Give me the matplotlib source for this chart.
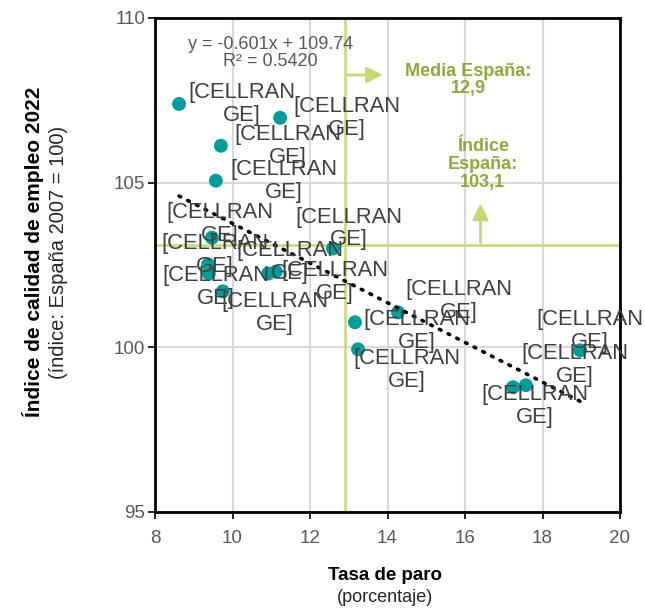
import numpy as np
import matplotlib
matplotlib.use('Agg')
import matplotlib.pyplot as plt

plt.rcParams['font.family'] = ['Liberation Sans', 'DejaVu Sans']

# ---------------------------------------------
# datos
# ---------------------------------------------
tasa_paro = [8.62, 11.23, 9.70, 9.57, 9.47, 12.59, 9.37, 9.39, 9.75,
             10.92, 11.12, 13.16, 13.24, 14.27, 17.24, 17.57, 18.97]
indice_calidad = [107.39, 106.97, 106.12, 105.06, 103.33, 103.00, 102.52, 102.24, 101.70,
                  102.24, 102.30, 100.76, 99.94, 101.06, 98.79, 98.85, 99.91]
etiquetas = ['[CELLRAN\nGE]'] * len(tasa_paro)

media_paro = 12.9
media_indice = 103.1
ecuacion = 'y = -0.601x + 109.74\nR² = 0.5420'

x_ticks = [8, 10, 12, 14, 16, 18, 20]
y_ticks = [95, 100, 105, 110]

# posición de cada etiqueta respecto a su punto (pixeles)
offsets = [(63, 0), (67, 0), (67, 0), (68, 0), (8, 14), (16, 20), (7, 9), (7, -13),
           (52, -22), (22, 12), (59, -10), (62, -9), (49, -21), (61, 11), (22, -19),
           (49, 20), (10, 19)]

TEAL = '#009E9A'
LINEA_MEDIA = '#C8D872'
VERDE_TXT = '#8DAA3B'
GRIS = '#595959'

fig = plt.figure(figsize=(6.45, 6.08), dpi=100)
ax = fig.add_axes([155 / 645, 1 - 512 / 608, 465 / 645, 494 / 608])

ax.set_xlim(8, 20)
ax.set_ylim(95, 110)
ax.set_xticks(x_ticks)
ax.set_yticks(y_ticks)
ax.grid(True, color='#D9D9D9', linewidth=1.5, zorder=0)
ax.set_axisbelow(True)

for s in ax.spines.values():
    s.set_color('black')
    s.set_linewidth(2)

ax.tick_params(axis='both', direction='out', length=5, width=1.2, color='black',
               labelcolor=GRIS, labelsize=13.5)
ax.tick_params(axis='x', pad=8)
ax.tick_params(axis='y', pad=2)

# líneas de media España
ax.axvline(media_paro, color=LINEA_MEDIA, linewidth=1.8, zorder=1)
ax.axhline(media_indice, color=LINEA_MEDIA, linewidth=1.8, zorder=1)

# puntos
ax.scatter(tasa_paro, indice_calidad, s=100, color=TEAL, edgecolors='none', zorder=3)

# tendencia lineal
coef = np.polyfit(tasa_paro, indice_calidad, 1)
xs = np.array([min(tasa_paro), max(tasa_paro)])
ax.plot(xs, np.polyval(coef, xs), color='black', linewidth=2.6,
        linestyle=(0, (0.5, 2.2)), dash_capstyle='round', zorder=4)

# etiquetas de datos
for x, y, t, (dx, dy) in zip(tasa_paro, indice_calidad, etiquetas, offsets):
    ax.annotate(t, (x, y), xytext=(dx, dy), textcoords='offset pixels',
                ha='center', va='center', multialignment='center',
                fontsize=15.8, color='#404040', linespacing=1.12, zorder=5)

ax.text(10.98, 108.94, ecuacion, ha='center', va='center', multialignment='center',
        fontsize=13, color=GRIS, linespacing=1.0, zorder=5)

# flechas y textos de media
ax.annotate('', xy=(13.95, 108.27), xytext=(media_paro, 108.27),
            arrowprops=dict(arrowstyle='-|>', color=LINEA_MEDIA, lw=2, mutation_scale=24))
ax.annotate('', xy=(16.4, 104.45), xytext=(16.4, media_indice),
            arrowprops=dict(arrowstyle='-|>', color=LINEA_MEDIA, lw=2, mutation_scale=24))

ax.text(16.08, 108.12, 'Media España:\n12,9', ha='center', va='center',
        multialignment='center', fontsize=13, fontweight='bold', color=VERDE_TXT,
        linespacing=1.05)
ax.text(16.46, 105.55, 'Índice\nEspaña:\n103,1', ha='center', va='center',
        multialignment='center', fontsize=13, fontweight='bold', color=VERDE_TXT,
        linespacing=1.05)

# títulos de los ejes
fig.text(33 / 645, 1 - 252 / 608, 'Índice de calidad de empleo 2022', rotation=90,
         ha='center', va='center', fontsize=15, fontweight='bold', color='black')
fig.text(58 / 645, 1 - 252 / 608, '(índice: España 2007 = 100)', rotation=90,
         ha='center', va='center', fontsize=14.5, color='#262626')
fig.text(385 / 645, 1 - 575 / 608, 'Tasa de paro', ha='center', va='center',
         fontsize=13.5, fontweight='bold', color='black')
fig.text(385 / 645, 1 - 597 / 608, '(porcentaje)', ha='center', va='center',
         fontsize=13, color='#262626')

fig.savefig('out.png', dpi=100)
